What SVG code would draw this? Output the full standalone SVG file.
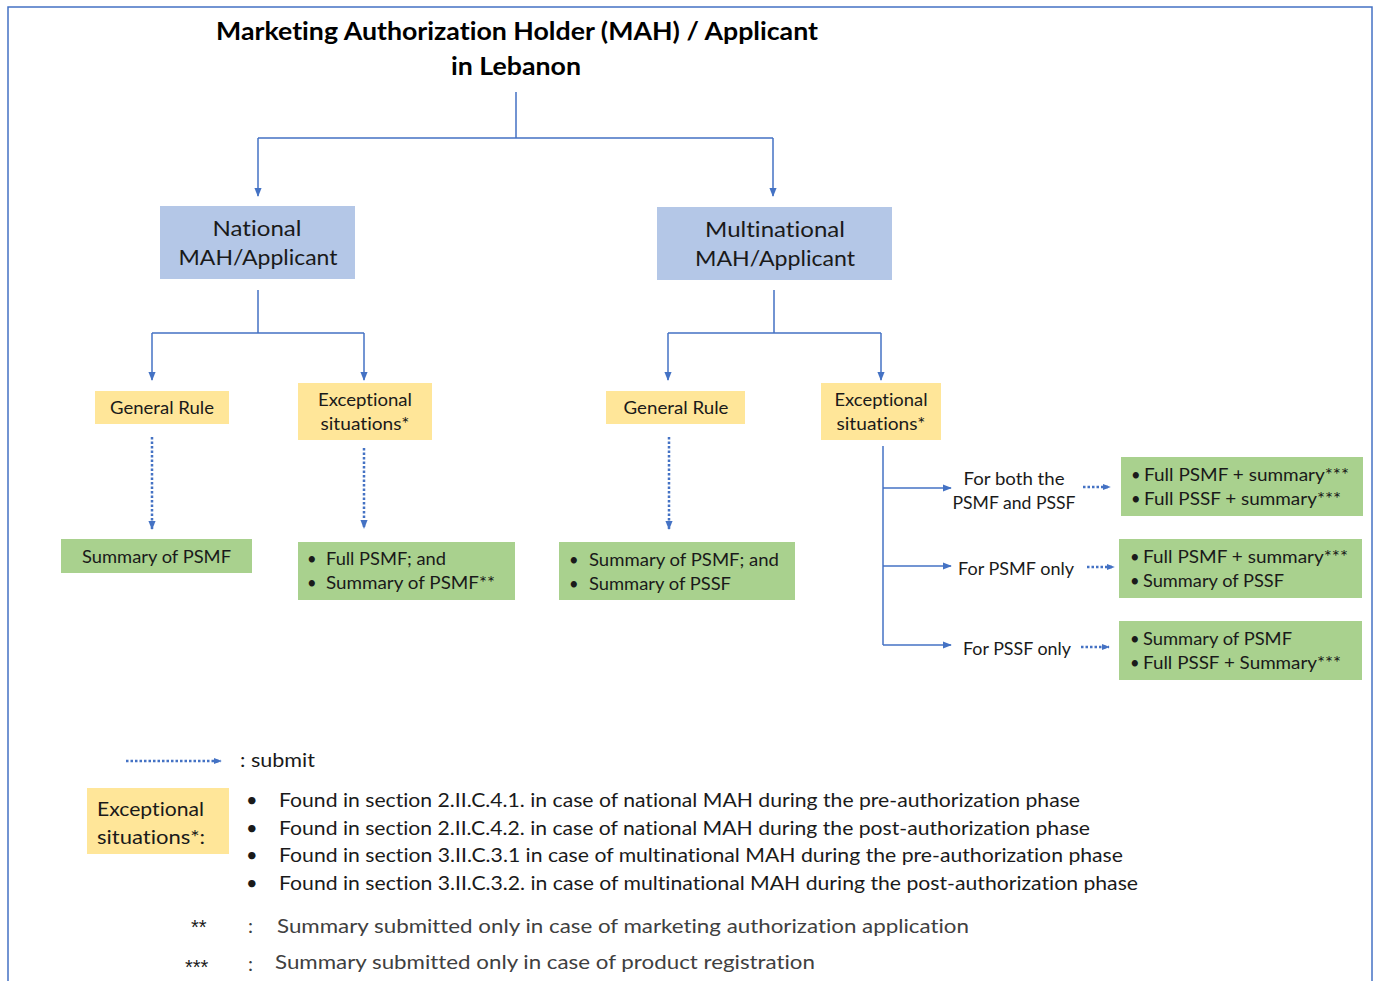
<svg xmlns="http://www.w3.org/2000/svg" width="1379" height="981" viewBox="0 0 1379 981">
<defs>
<marker id="ah" viewBox="0 0 10 10" refX="9" refY="5" markerWidth="9" markerHeight="9" markerUnits="userSpaceOnUse" orient="auto">
<path d="M0,1 L10,5 L0,9 Z" fill="#4472C4"/>
</marker>
<marker id="ahs" viewBox="0 0 10 10" refX="9" refY="5" markerWidth="8" markerHeight="8" markerUnits="userSpaceOnUse" orient="auto">
<path d="M0,1 L10,5 L0,9 Z" fill="#4472C4"/>
</marker>
<style>
text{font-family:Lato,"Liberation Sans",sans-serif;fill:#1a1a1a;font-variant-ligatures:none;font-feature-settings:"liga" 0,"clig" 0}
.t{font-weight:bold;font-size:25px;fill:#000}
.b{font-size:22px}
.s{font-size:16.5px}
.l{font-size:20px}
.g{fill:#404040}
.c{text-anchor:middle}
.m{font-family:"Liberation Sans",sans-serif}
.blue{fill:#B4C7E7}
.yel{fill:#FFE699}
.grn{fill:#A9D18E}
.ln{stroke:#4472C4;stroke-width:1.5;fill:none}
.dot{stroke:#4472C4;stroke-width:2.5;stroke-dasharray:2.5 2;fill:none}
</style>
</defs>
<rect x="8" y="7" width="1364" height="990" fill="#fff" stroke="#4472C4" stroke-width="1.5"/>
<g id="title">
<text class="t c" x="517" y="40" textLength="602" lengthAdjust="spacingAndGlyphs">Marketing Authorization Holder (MAH) / Applicant</text>
<text class="t c" x="516" y="75" textLength="130" lengthAdjust="spacingAndGlyphs">in Lebanon</text>
</g>
<g id="connectors">
<path class="ln" d="M516,92 V137.5 M258,138 H773"/>
<path class="ln" d="M258,138 V196" marker-end="url(#ah)"/>
<path class="ln" d="M773,138 V196" marker-end="url(#ah)"/>
<path class="ln" d="M258,290 V333 M152,333 H364"/>
<path class="ln" d="M152,333 V380" marker-end="url(#ah)"/>
<path class="ln" d="M364,333 V380" marker-end="url(#ah)"/>
<path class="ln" d="M774,290 V333 M668,333 H881"/>
<path class="ln" d="M668,333 V380" marker-end="url(#ah)"/>
<path class="ln" d="M881,333 V380" marker-end="url(#ah)"/>
<path class="dot" d="M152,437 V529" marker-end="url(#ah)"/>
<path class="dot" d="M364,448 V528" marker-end="url(#ah)"/>
<path class="dot" d="M669,437 V529" marker-end="url(#ah)"/>
<path class="ln" d="M883,446 V645"/>
<path class="ln" d="M883,488 H951" marker-end="url(#ah)"/>
<path class="ln" d="M883,566 H951" marker-end="url(#ah)"/>
<path class="ln" d="M883,645 H951" marker-end="url(#ah)"/>
<path class="dot" d="M1083,487 H1110" marker-end="url(#ahs)"/>
<path class="dot" d="M1087,567 H1114" marker-end="url(#ahs)"/>
<path class="dot" d="M1081,647 H1109" marker-end="url(#ahs)"/>
</g>
<g id="national">
<rect class="blue" x="160" y="206" width="195" height="73"/>
<text class="b c" x="257" y="236" textLength="89" lengthAdjust="spacingAndGlyphs">National</text>
<text class="b c" x="258" y="265" textLength="159" lengthAdjust="spacingAndGlyphs">MAH/Applicant</text>
</g>
<g id="multinational">
<rect class="blue" x="657" y="207" width="235" height="73"/>
<text class="b c" x="775" y="237" textLength="140" lengthAdjust="spacingAndGlyphs">Multinational</text>
<text class="b c" x="775" y="266" textLength="160" lengthAdjust="spacingAndGlyphs">MAH/Applicant</text>
</g>
<g id="nat-general">
<rect class="yel" x="95" y="391" width="134" height="33"/>
<text class="s c" x="162" y="414" textLength="104" lengthAdjust="spacingAndGlyphs">General Rule</text>
</g>
<g id="nat-exceptional">
<rect class="yel" x="298" y="383" width="134" height="57"/>
<text class="s c" x="365" y="406" textLength="94" lengthAdjust="spacingAndGlyphs">Exceptional</text>
<text class="s c" x="365" y="430" textLength="89" lengthAdjust="spacingAndGlyphs">situations*</text>
</g>
<g id="nat-general-out">
<rect class="grn" x="61" y="539" width="191" height="34"/>
<text class="s" x="82" y="563" textLength="149" lengthAdjust="spacingAndGlyphs">Summary of PSMF</text>
</g>
<g id="nat-exceptional-out">
<rect class="grn" x="298" y="542" width="217" height="58"/>
<text class="s" x="307" y="565">•</text>
<text class="s" x="326" y="565" textLength="120" lengthAdjust="spacingAndGlyphs">Full PSMF; and</text>
<text class="s" x="307" y="589">•</text>
<text class="s" x="326" y="589" textLength="169" lengthAdjust="spacingAndGlyphs">Summary of PSMF**</text>
</g>
<g id="multi-general">
<rect class="yel" x="606" y="391" width="139" height="33"/>
<text class="s c" x="676" y="414" textLength="105" lengthAdjust="spacingAndGlyphs">General Rule</text>
</g>
<g id="multi-exceptional">
<rect class="yel" x="821" y="383" width="120" height="57"/>
<text class="s c" x="881" y="406" textLength="93" lengthAdjust="spacingAndGlyphs">Exceptional</text>
<text class="s c" x="881" y="430" textLength="89" lengthAdjust="spacingAndGlyphs">situations*</text>
</g>
<g id="multi-general-out">
<rect class="grn" x="559" y="542" width="236" height="58"/>
<text class="s" x="569" y="566">•</text>
<text class="s" x="589" y="566" textLength="190" lengthAdjust="spacingAndGlyphs">Summary of PSMF; and</text>
<text class="s" x="569" y="590">•</text>
<text class="s" x="589" y="590" textLength="142" lengthAdjust="spacingAndGlyphs">Summary of PSSF</text>
</g>
<g id="label-both">
<text class="s c" x="1014" y="485" textLength="101" lengthAdjust="spacingAndGlyphs">For both the</text>
<text class="s c" x="1014" y="509" textLength="123" lengthAdjust="spacingAndGlyphs">PSMF and PSSF</text>
</g>
<g id="label-psmf">
<text class="s" x="958" y="575" textLength="116" lengthAdjust="spacingAndGlyphs">For PSMF only</text>
</g>
<g id="label-pssf">
<text class="s" x="963" y="655" textLength="108" lengthAdjust="spacingAndGlyphs">For PSSF only</text>
</g>
<g id="out-both">
<rect class="grn" x="1121" y="457" width="242" height="59"/>
<text class="s" x="1131" y="481">•</text>
<text class="s" x="1144" y="481" textLength="205" lengthAdjust="spacingAndGlyphs">Full PSMF + summary***</text>
<text class="s" x="1131" y="505">•</text>
<text class="s" x="1144" y="505" textLength="197" lengthAdjust="spacingAndGlyphs">Full PSSF + summary***</text>
</g>
<g id="out-psmf">
<rect class="grn" x="1119" y="539" width="243" height="59"/>
<text class="s" x="1130" y="563">•</text>
<text class="s" x="1143" y="563" textLength="205" lengthAdjust="spacingAndGlyphs">Full PSMF + summary***</text>
<text class="s" x="1130" y="587">•</text>
<text class="s" x="1143" y="587" textLength="141" lengthAdjust="spacingAndGlyphs">Summary of PSSF</text>
</g>
<g id="out-pssf">
<rect class="grn" x="1119" y="621" width="243" height="59"/>
<text class="s" x="1130" y="645">•</text>
<text class="s" x="1143" y="645" textLength="149" lengthAdjust="spacingAndGlyphs">Summary of PSMF</text>
<text class="s" x="1130" y="669">•</text>
<text class="s" x="1143" y="669" textLength="198" lengthAdjust="spacingAndGlyphs">Full PSSF + Summary***</text>
</g>
<g id="legend">
<path class="dot" d="M126,761 H221" marker-end="url(#ahs)"/>
<text class="l" x="240" y="767" textLength="75" lengthAdjust="spacingAndGlyphs">: submit</text>
<rect class="yel" x="87" y="788" width="142" height="66"/>
<text class="l" x="97" y="816" textLength="107" lengthAdjust="spacingAndGlyphs">Exceptional</text>
<text class="l" x="97" y="844" textLength="108" lengthAdjust="spacingAndGlyphs">situations*:</text>
<text class="l" x="246" y="807">•</text>
<text class="l" x="279" y="807" textLength="801" lengthAdjust="spacingAndGlyphs">Found in section 2.II.C.4.1. in case of national MAH during the pre-authorization phase</text>
<text class="l" x="246" y="835">•</text>
<text class="l" x="279" y="835" textLength="811" lengthAdjust="spacingAndGlyphs">Found in section 2.II.C.4.2. in case of national MAH during the post-authorization phase</text>
<text class="l" x="246" y="862">•</text>
<text class="l" x="279" y="862" textLength="844" lengthAdjust="spacingAndGlyphs">Found in section 3.II.C.3.1 in case of multinational MAH during the pre-authorization phase</text>
<text class="l" x="246" y="890">•</text>
<text class="l" x="279" y="890" textLength="859" lengthAdjust="spacingAndGlyphs">Found in section 3.II.C.3.2. in case of multinational MAH during the post-authorization phase</text>
<text class="l m" x="191" y="934" font-size="18">**</text>
<text class="l g" x="248" y="933">:</text>
<text class="l g" x="277" y="933" textLength="692" lengthAdjust="spacingAndGlyphs">Summary submitted only in case of marketing authorization application</text>
<text class="l m" x="185" y="974" font-size="18">***</text>
<text class="l g" x="248" y="971">:</text>
<text class="l g" x="275" y="969" textLength="540" lengthAdjust="spacingAndGlyphs">Summary submitted only in case of product registration</text>
</g>
</svg>
